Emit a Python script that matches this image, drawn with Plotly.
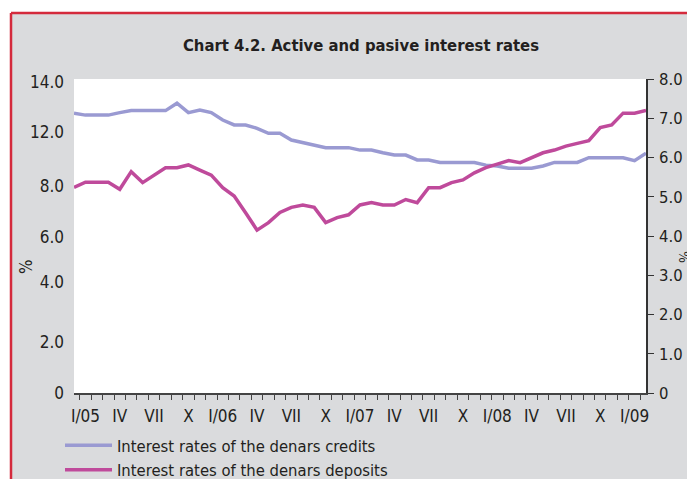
import plotly.graph_objects as go

# months from XII/04 to II/09 (51 points)
months = ['2004-12'] + [f'{y}-{m:02d}' for y in range(2005, 2009) for m in range(1, 13)] + ['2009-01', '2009-02']

credits = [12.47, 12.39, 12.39, 12.39, 12.50, 12.59, 12.59, 12.59, 12.59, 12.92,
           12.50, 12.62, 12.50, 12.17, 11.95, 11.95, 11.80, 11.58, 11.58, 11.28,
           11.16, 11.06, 10.94, 10.94, 10.94, 10.83, 10.83, 10.71, 10.61, 10.61,
           10.39, 10.39, 10.28, 10.28, 10.28, 10.28, 10.16, 10.12, 10.02, 10.02,
           10.02, 10.12, 10.28, 10.28, 10.28, 10.49, 10.49, 10.49, 10.49, 10.36,
           10.69]

deposits = [5.24, 5.37, 5.37, 5.37, 5.19, 5.64, 5.36, 5.55, 5.74, 5.74,
            5.81, 5.68, 5.55, 5.23, 5.02, 4.59, 4.15, 4.34, 4.60, 4.73,
            4.79, 4.73, 4.34, 4.47, 4.54, 4.79, 4.85, 4.79, 4.79, 4.93,
            4.85, 5.23, 5.23, 5.36, 5.43, 5.61, 5.74, 5.83, 5.92, 5.87,
            5.99, 6.12, 6.19, 6.29, 6.36, 6.43, 6.76, 6.83, 7.13, 7.13,
            7.20]

roman = ['I', 'II', 'III', 'IV', 'V', 'VI', 'VII', 'VIII', 'IX', 'X', 'XI', 'XII']
x_ticktext = []
for mo in months:
    y, m = int(mo[:4]), int(mo[5:])
    if m == 1:
        x_ticktext.append(f'I/{str(y)[2:]}')
    elif m in (4, 7, 10):
        x_ticktext.append(roman[m - 1])
    else:
        x_ticktext.append('')

# left axis: tick marks every 2, labels where the source prints them
left_ticks = [0, 2, 4, 6, 8, 10, 12, 14]
left_label_pos = [0, 2.27, 4.95, 6.96, 9.23, 11.64, 13.87]
left_label_text = ['0', '2.0', '4.0', '6.0', '8.0', '12.0', '14.0']
grid_vals = [2, 4, 6, 8, 10, 12]

right_ticks = [0, 1, 2, 3, 4, 5, 6, 7, 8]
right_text = ['0', '1.0', '2.0', '3.0', '4.0', '5.0', '6.0', '7.0', '8.0']

FONT = 'DejaVu Sans Condensed, Liberation Sans Narrow, sans-serif'
TXT = '#231f20'
GRAY = '#dadbdd'
RED = '#d42a3c'

# page body has an 8px margin, so the figure is 8px smaller each way
W, H = 687, 471
L, R, T, B = 66, 49, 71, 86
PW, PH = W - L - R, H - T - B


def px(xp):
    return (xp - L) / PW


def py(yp):
    return (H - B - yp) / PH


fig = go.Figure()

fig.add_trace(go.Scatter(
    x=months, y=credits, mode='lines', name='Interest rates of the denars credits',
    line=dict(color='#9a9ad2', width=3.5), yaxis='y'))
fig.add_trace(go.Scatter(
    x=months, y=deposits, mode='lines', name='Interest rates of the denars deposits',
    line=dict(color='#bf4a9b', width=3.5), yaxis='y2'))

fig.update_layout(
    width=W, height=H,
    margin=dict(l=L, r=R, t=T, b=B, autoexpand=False),
    paper_bgcolor=GRAY, plot_bgcolor='white',
    font=dict(family=FONT, size=17, color=TXT),
    title=dict(text='<b>Chart 4.2. Active and pasive interest rates</b>',
               x=px(353), xanchor='center', xref='paper',
               y=1 - 37 / H, yanchor='middle',
               font=dict(size=16.5, family=FONT, color=TXT)),
    xaxis=dict(type='category', categoryorder='array', categoryarray=months,
               tickvals=months, ticktext=x_ticktext, tickson='boundaries',
               ticks='outside', ticklen=5, tickcolor='#444', showgrid=False,
               showline=True, linecolor='#444', linewidth=1.5,
               tickangle=0, tickfont=dict(size=17), ticklabelstandoff=7,
               automargin=False),
    yaxis=dict(range=[0, 14], tickvals=left_label_pos, ticktext=left_label_text,
               ticks='', showgrid=False, showline=False, zeroline=False,
               ticklabelstandoff=9, tickfont=dict(size=17), automargin=False),
    yaxis2=dict(range=[0, 8], overlaying='y', side='right', tickvals=right_ticks,
                ticktext=right_text, ticks='outside', ticklen=6, tickcolor='#333',
                showline=True, linecolor='#333', linewidth=1.5, showgrid=False,
                zeroline=False, ticklabelstandoff=2, tickfont=dict(size=16.5),
                automargin=False),
    yaxis3=dict(range=[0, 14], overlaying='y', side='left', tickvals=left_ticks,
                ticks='outside', ticklen=5, tickcolor='#555', showticklabels=False,
                showline=True, linecolor='#555', linewidth=1.5, showgrid=False,
                zeroline=False, automargin=False),
    yaxis4=dict(range=[0, 14], overlaying='y', side='left', tickvals=grid_vals,
                ticks='', showticklabels=False, showline=False, showgrid=True,
                gridcolor='#c8c8c8', gridwidth=1, zeroline=False, automargin=False),
    legend=dict(x=px(52), y=py(420), xanchor='left', yanchor='top',
                bgcolor='rgba(0,0,0,0)', font=dict(size=16.5), itemwidth=47,
                tracegroupgap=0),
    showlegend=True,
)

# frame: white strip on top/left, red border lines
fig.add_shape(type='rect', xref='paper', yref='paper', x0=px(0), x1=px(W), y0=py(5), y1=py(0),
              fillcolor='white', line=dict(width=0), layer='below')
fig.add_shape(type='rect', xref='paper', yref='paper', x0=px(0), x1=px(3), y0=py(H), y1=py(0),
              fillcolor='white', line=dict(width=0), layer='below')
fig.add_shape(type='line', xref='paper', yref='paper', x0=px(3), x1=px(W), y0=py(5), y1=py(5),
              line=dict(color=RED, width=2.5))
fig.add_shape(type='line', xref='paper', yref='paper', x0=px(3), x1=px(3), y0=py(H), y1=py(5),
              line=dict(color=RED, width=2.5))

# "%" axis captions
fig.add_annotation(text='%', xref='paper', yref='paper', x=px(18), y=py(259),
                   xanchor='center', yanchor='middle',
                   showarrow=False, textangle=-90, font=dict(size=17))
fig.add_annotation(text='%', xref='paper', yref='paper', x=px(676), y=py(249),
                   xanchor='center', yanchor='middle',
                   showarrow=False, textangle=90, font=dict(size=14))

fig.write_html('out.html')
